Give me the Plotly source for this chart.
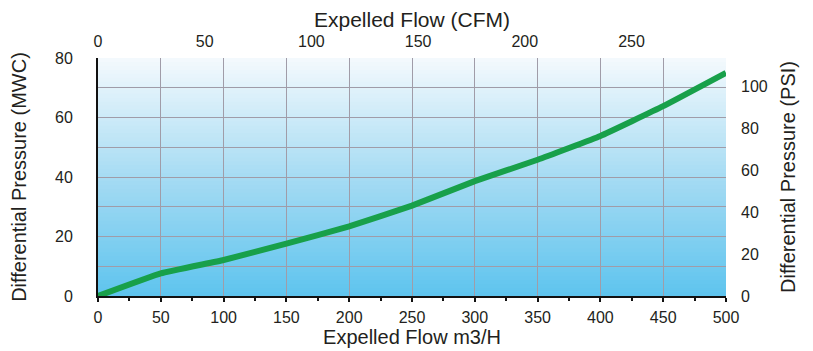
import plotly.graph_objects as go

# Data
flow_m3h = [0, 50, 100, 150, 200, 250, 300, 350, 400, 450, 500]
pressure_mwc = [0, 7.6, 12.1, 17.6, 23.4, 30.4, 38.6, 45.8, 53.8, 63.8, 75.0]

x_range = [0, 500]
y_range = [0, 80]
M3H_TO_CFM = 0.5886
MWC_TO_PSI = 1 / 0.70307

x_ticks = [0, 50, 100, 150, 200, 250, 300, 350, 400, 450, 500]
cfm_ticks = [0, 50, 100, 150, 200, 250]
mwc_ticks = [0, 20, 40, 60, 80]
psi_ticks = [0, 20, 40, 60, 80, 100]

FONT = "Liberation Sans, Arial, sans-serif"
TXT = "#231f20"
GRID = "#a09ca8"

# background gradient stops (bottom -> top)
grad_stops = [(0.0, (94, 196, 238)), (0.5, (166, 219, 243)), (1.0, (244, 250, 253))]
N_BANDS = 60


def grad_color(t):
    for (t0, c0), (t1, c1) in zip(grad_stops[:-1], grad_stops[1:]):
        if t0 <= t <= t1:
            f = (t - t0) / (t1 - t0)
            c = [round(a + (b - a) * f) for a, b in zip(c0, c1)]
            return "rgb(%d,%d,%d)" % tuple(c)
    return "rgb(%d,%d,%d)" % grad_stops[-1][1]


# stacked rectangles: each one spans from its band up to the top, later ones cover earlier
shapes = []
for i in range(N_BANDS):
    y0 = y_range[0] + (y_range[1] - y_range[0]) * i / N_BANDS
    shapes.append(dict(type="rect", xref="x", yref="y", x0=x_range[0], x1=x_range[1],
                       y0=y0, y1=y_range[1], fillcolor=grad_color((i + 0.5) / N_BANDS),
                       line=dict(width=0), layer="below"))

fig = go.Figure()

fig.add_trace(go.Scatter(
    x=flow_m3h, y=pressure_mwc, mode="lines",
    line=dict(color="#18a04a", width=6, shape="spline", smoothing=0.3),
    showlegend=False,
))

# invisible traces carrying the secondary axes
fig.add_trace(go.Scatter(x=[v * M3H_TO_CFM for v in x_range], y=y_range,
                         xaxis="x2", yaxis="y", mode="markers",
                         marker=dict(opacity=0), hoverinfo="skip", showlegend=False))
fig.add_trace(go.Scatter(x=x_range, y=[v * MWC_TO_PSI for v in y_range],
                         xaxis="x", yaxis="y2", mode="markers",
                         marker=dict(opacity=0), hoverinfo="skip", showlegend=False))

fig.update_layout(
    width=813, height=351,
    margin=dict(l=90, r=95, t=50, b=63, autoexpand=False),
    paper_bgcolor="white", plot_bgcolor="white",
    font=dict(family=FONT, color=TXT, size=16),
    shapes=shapes,
    xaxis=dict(
        range=x_range, tickvals=x_ticks, showgrid=True, gridcolor=GRID, gridwidth=1,
        showline=True, linecolor="#111", linewidth=2, ticks="outside", ticklen=4,
        tickcolor="#111", tickwidth=1.5, automargin=False,
        minor=dict(dtick=25, ticks="outside", ticklen=3, tickcolor="#111", showgrid=False),
        zeroline=False, tickfont=dict(size=16, color=TXT), ticklabelstandoff=2,
        title=dict(text="Expelled Flow m3/H", font=dict(size=20, color=TXT), standoff=0),
    ),
    xaxis2=dict(
        range=[v * M3H_TO_CFM for v in x_range], tickvals=cfm_ticks, overlaying="x",
        side="top", showgrid=False, zeroline=False, showline=False, ticks="",
        ticklabelstandoff=7, tickfont=dict(size=16, color=TXT), automargin=False,
        title=dict(text="Expelled Flow (CFM)", font=dict(size=21, color=TXT), standoff=1),
    ),
    yaxis=dict(
        range=y_range, tickvals=mwc_ticks, showgrid=True, gridcolor=GRID, gridwidth=1,
        minor=dict(dtick=10, showgrid=True, gridcolor=GRID, gridwidth=1),
        showline=True, linecolor="#111", linewidth=2, ticks="", zeroline=False,
        ticklabelstandoff=20, tickfont=dict(size=16, color=TXT), automargin=False,
        title=dict(text="Differential Pressure (MWC)", font=dict(size=20, color=TXT), standoff=26),
    ),
    yaxis2=dict(
        range=[v * MWC_TO_PSI for v in y_range], tickvals=psi_ticks, overlaying="y",
        side="right", showgrid=False, zeroline=False, showline=False, ticks="",
        ticklabelstandoff=14, tickfont=dict(size=16, color=TXT), automargin=False,
        title=dict(text="Differential Pressure (PSI)", font=dict(size=20, color=TXT), standoff=14),
    ),
)

fig.write_html("out.html")
